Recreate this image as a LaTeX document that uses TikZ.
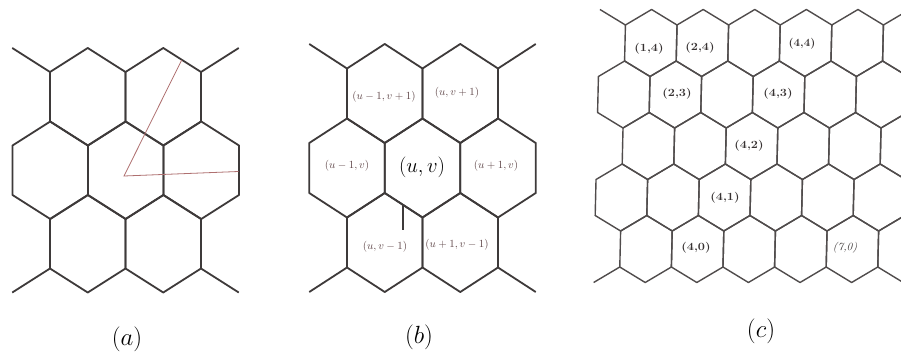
\documentclass[tikz,border=0pt]{standalone}
\usepackage{graphicx}
\definecolor{gridA}{RGB}{62,58,58}
\definecolor{gridC}{RGB}{80,76,76}
\definecolor{tri}{RGB}{175,112,112}
\definecolor{lblB}{RGB}{95,70,72}
\definecolor{lblC}{RGB}{55,50,50}
\tikzset{
  hexA/.style={draw=gridA, line width=1.8pt, line join=round},
  hexC/.style={draw=gridC, line width=1.4pt, line join=round},
  triline/.style={draw=tri, line width=0.8pt},
  smalllbl/.style={text=lblB, font=\fontsize{10.5}{11}\selectfont, inner sep=0.5pt},
  biglbl/.style={text=black, font=\fontsize{22}{24}\selectfont, inner sep=0.5pt},
  cellC/.style={text=lblC, font=\fontsize{11}{12}\selectfont\bfseries, inner sep=0.5pt},
  caption/.style={font=\fontsize{28}{30}\selectfont, inner sep=0pt},
}
% style, cx, cy, half width, slope height, half side
\newcommand{\hexcell}[6]{%
  \path[#1] (#2,#3-#6-#5) -- (#2+#4,#3-#6) -- (#2+#4,#3+#6) -- (#2,#3+#6+#5)
    -- (#2-#4,#3+#6) -- (#2-#4,#3-#6) -- cycle;}
\begin{document}
\begin{tikzpicture}[x=1pt,y=-1pt]
\fill[white] (0,0) rectangle (901,358);
\useasboundingbox (0,0) rectangle (901,358);

% ---------- panel (a) ----------
\foreach \cx in {87.75,163.25} {\hexcell{hexA}{\cx}{96.75}{37.75}{24}{24.75}}
\foreach \cx in {50.25,125.75,201.25} {\hexcell{hexA}{\cx}{170.25}{37.75}{24}{24.75}}
\foreach \cx in {87.75,163.25} {\hexcell{hexA}{\cx}{243.75}{37.75}{24}{24.75}}
\path[hexA] (50,72) -- (12.25,48);
\path[hexA] (201,72) -- (238.75,48);
\path[hexA] (50,268.5) -- (12.25,292.5);
\path[hexA] (201,268.5) -- (238.75,292.5);
\path[triline] (181.7,60) -- (124,176) -- (238.5,171.5);
\node[caption] (capa) at (127,339) {$(a)$};

% ---------- panel (b) ----------
\foreach \cx in {384.75,460.25} {\hexcell{hexA}{\cx}{93.5}{37.75}{24.5}{25}}
\foreach \cx in {347,422.5,498} {\hexcell{hexA}{\cx}{168}{37.75}{24.5}{25}}
\foreach \cx in {384.75,460.25} {\hexcell{hexA}{\cx}{242.5}{37.75}{24.5}{25}}
\path[hexA] (347,68.5) -- (309.25,44);
\path[hexA] (498,68.5) -- (535.75,44);
\path[hexA] (347,267.5) -- (309.25,292);
\path[hexA] (498,267.5) -- (535.75,292);
\path[hexA, line width=1.2pt] (403,205) -- (403,230);
\node[smalllbl] (b1) at (384,97) {$(u-1,v+1)$};
\node[smalllbl] (b2) at (457,93) {$(u,v+1)$};
\node[smalllbl] (b3) at (347,166) {$(u-1,v)$};
\node[biglbl]   (b4) at (422,167) {$(u,v)$};
\node[smalllbl] (b5) at (496,166) {$(u+1,v)$};
\node[smalllbl] (b6) at (385,247) {$(u,v-1)$};
\node[smalllbl] (b7) at (457,245) {$(u+1,v-1)$};
\node[caption] (capb) at (419,337) {$(b)$};

% ---------- panel (c) ----------
\begin{scope}
\clip (560,0) rectangle (901,358);
\begin{scope}[xslant=0.0233]
\foreach \r in {0,...,4} {
  \pgfmathsetmacro\cy{43+51.5*\r}
  \pgfmathsetmacro\xo{mod(\r,2)==0 ? 626 : 600.2}
  \foreach \j in {0,...,5} {
    \pgfmathsetmacro\cx{\xo+25.8+51.6*\j}
    \hexcell{hexC}{\cx}{\cy}{25.8}{15.5}{18}
  }
}
\path[hexC] (626,25) -- (600.2,9.5);
\path[hexC] (626,267) -- (600.2,282.5);
\end{scope}
\end{scope}
\node[cellC] (c14) at (649,49) {\scalebox{1.15}[1]{(1,4)}};
\node[cellC] (c24) at (700,48) {\scalebox{1.15}[1]{(2,4)}};
\node[cellC] (c44) at (802,44) {\scalebox{1.05}[1]{(4,4)}};
\node[cellC] (c23) at (677,94) {\scalebox{1.15}[1]{(2,3)}};
\node[cellC] (c43) at (778,94) {\scalebox{1.15}[1]{(4,3)}};
\node[cellC] (c42) at (749,146) {\scalebox{1.15}[1]{(4,2)}};
\node[cellC] (c41) at (725,198) {\scalebox{1.15}[1]{(4,1)}};
\node[cellC] (c40) at (696,248) {\scalebox{1.15}[1]{(4,0)}};
\node[cellC] (c70) at (845,248) {\scalebox{1.05}[1]{\mdseries\itshape(7,0)}};
\node[caption] (capc) at (761,331) {$(c)$};
\end{tikzpicture}
\end{document}
